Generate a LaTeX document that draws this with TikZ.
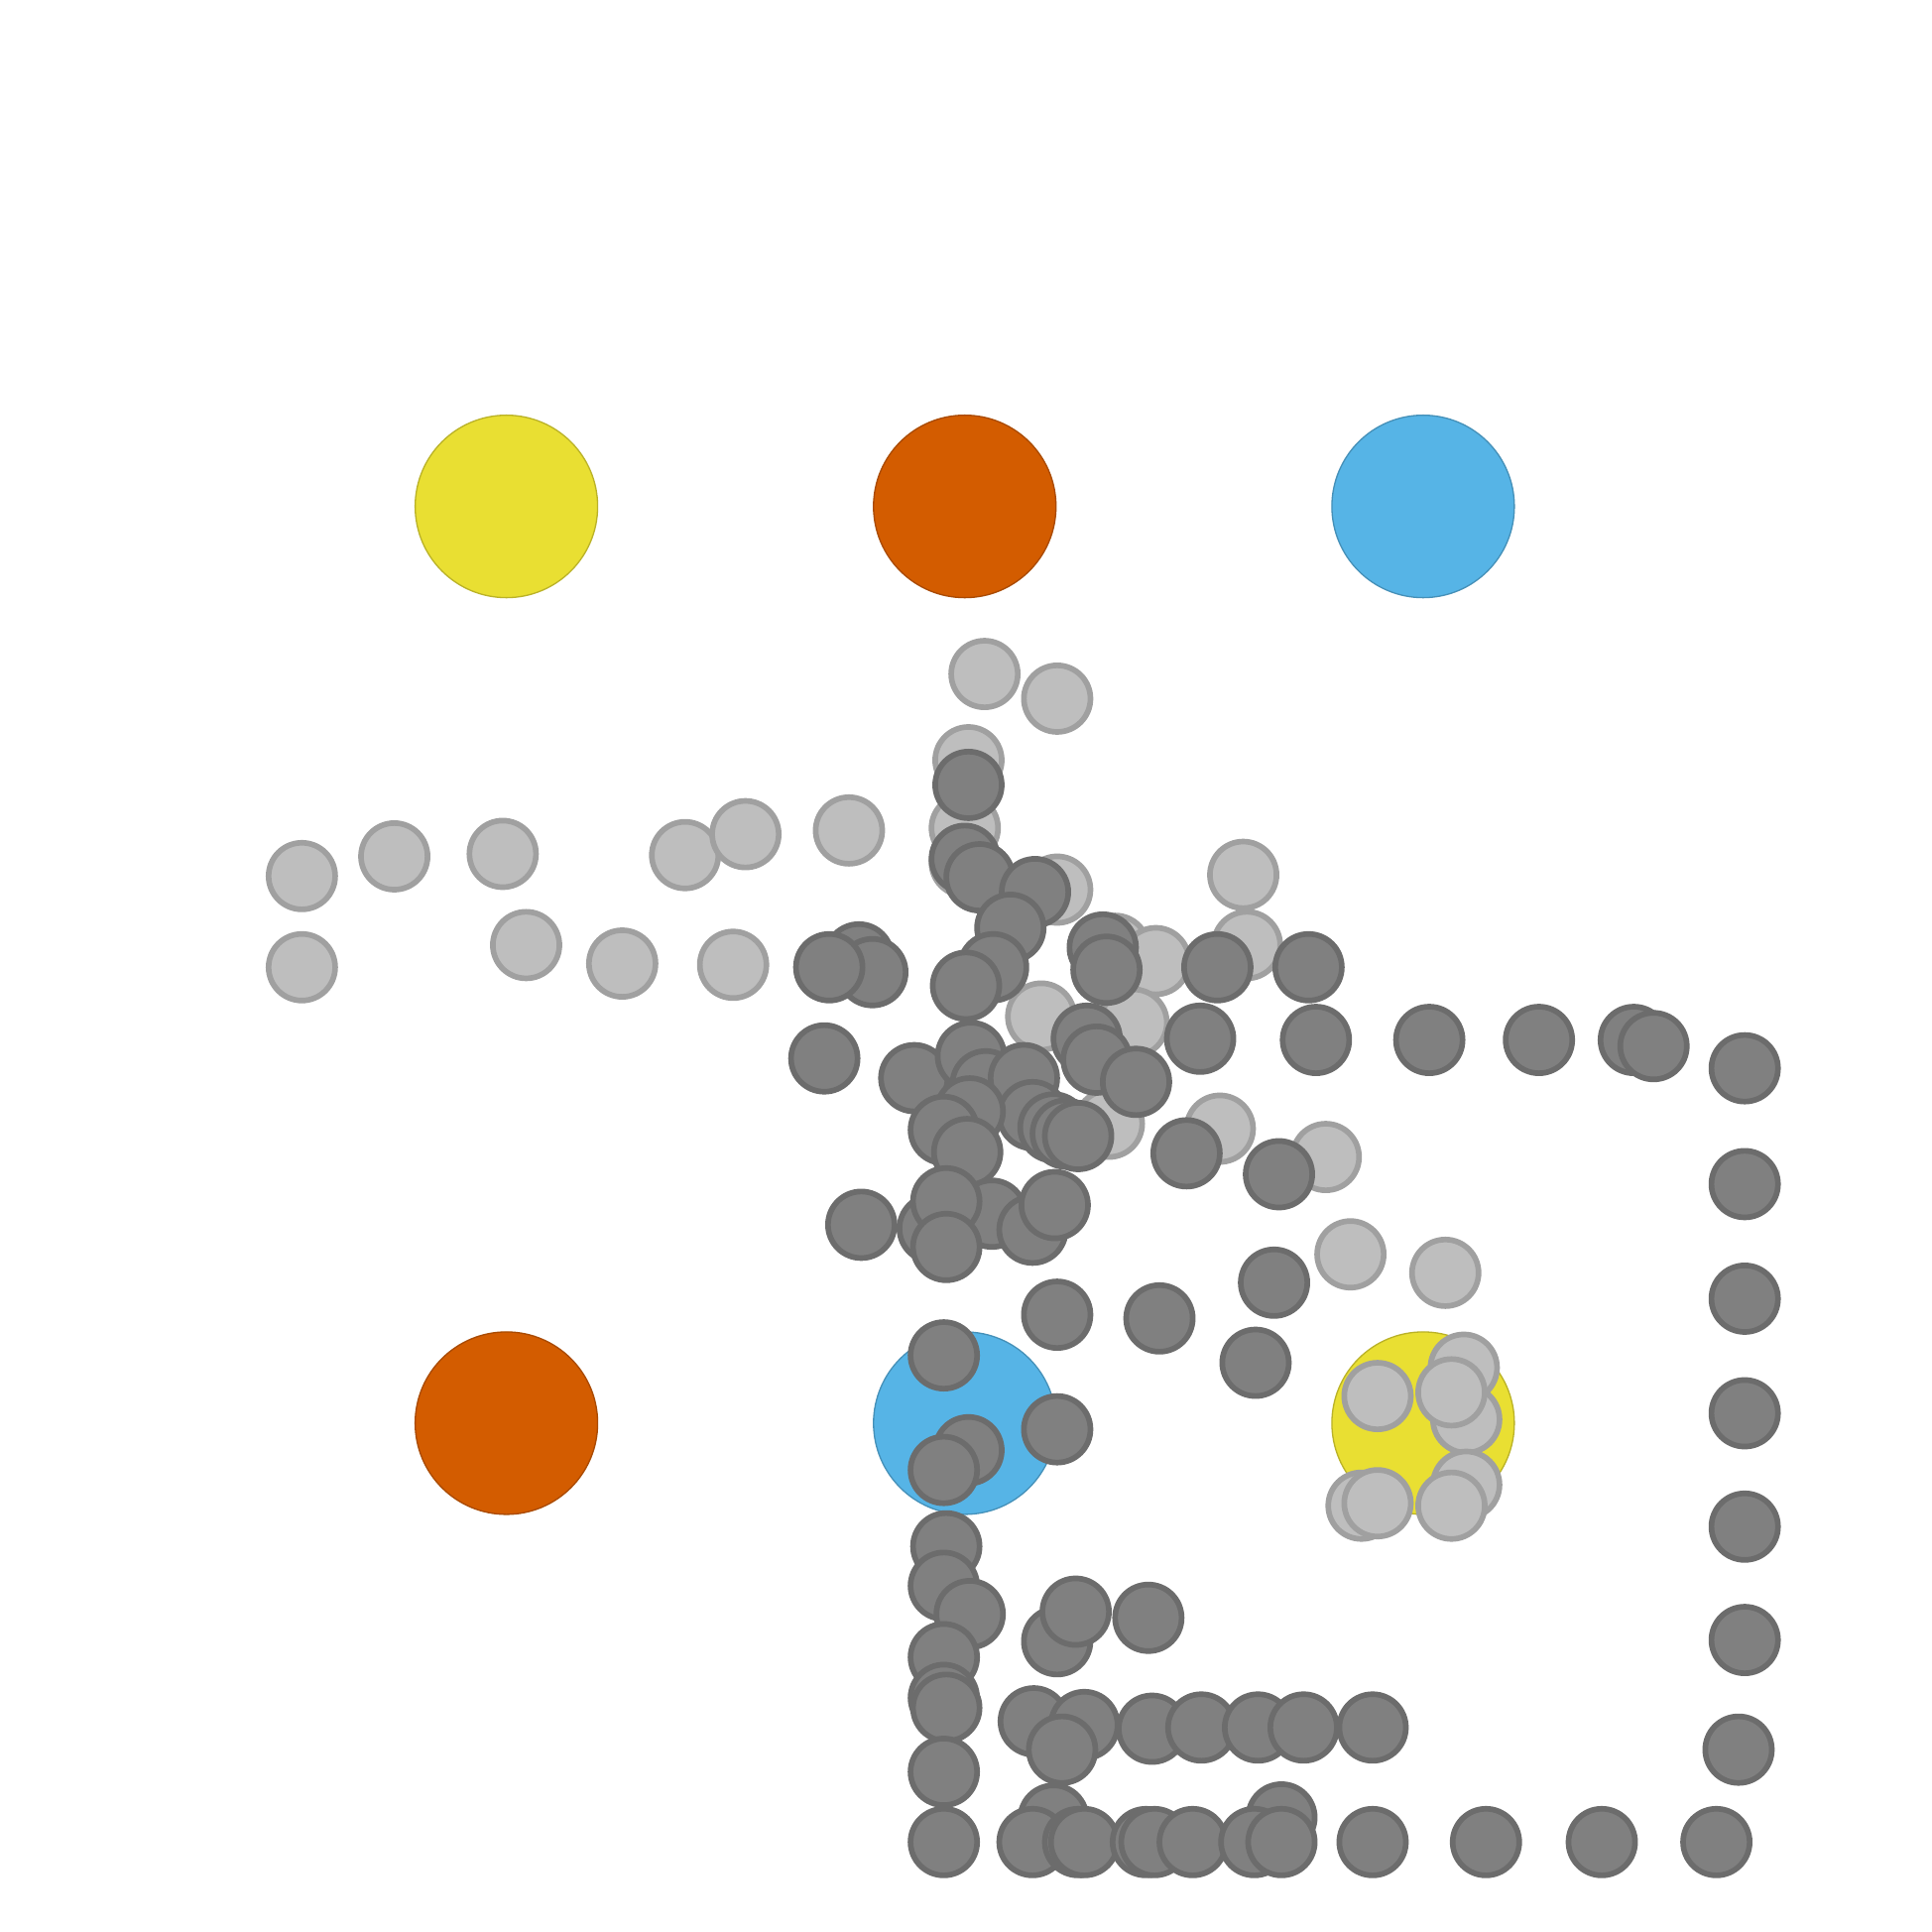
\documentclass[tikz,border=0pt]{standalone}
\definecolor{BigYellow}{HTML}{E9DF32}
\definecolor{BigOrange}{HTML}{D35C00}
\definecolor{BigBlue}{HTML}{56B4E6}
\definecolor{LightDot}{HTML}{BEBEBE}
\definecolor{LightRim}{HTML}{A0A0A0}
\definecolor{DarkDot}{HTML}{808080}
\definecolor{DarkRim}{HTML}{6C6C6C}
\usepackage{tikz}

\begin{document}
\begin{tikzpicture}[x=0.01cm, y=-0.01cm,
  bigdisc/.style={draw=#1!80!black, fill=#1, line width=0.3pt},
  lightdot/.style={draw=LightRim, fill=LightDot, line width=1.3pt},
  darkdot/.style={draw=DarkRim, fill=DarkDot, line width=1.3pt}]
  \useasboundingbox (0,0) rectangle (1568,1568);

  % Big discs
  \foreach \x/\y/\col in {411/411/BigYellow, 783/411/BigOrange, 1155/411/BigBlue,
                          411/1155/BigOrange, 783/1155/BigBlue, 1155/1155/BigYellow} {
    \draw[bigdisc=\col] (\x,\y) circle[radius=0.74cm];
  }

  % Light dots
  \foreach \x/\y in {799/547, 858/567, 786/617, 783/672, 783/700,
                     245/711, 320/695, 408/693, 556/694, 605/677, 689/674,
                     1009/710, 858/722, 245/785, 427/767, 505/782, 595/783,
                     1012/767, 905/770, 938/780, 845/825, 920/830, 900/912,
                     990/916, 1076/939, 1096/1018, 1173/1033,
                     1188/1110, 1190/1152, 1118/1133, 1178/1130,
                     1190/1205, 1105/1222, 1118/1220, 1178/1222} {
    \draw[lightdot] (\x,\y) circle[radius=0.27cm];
  }

  % Dark dots
  \foreach \x/\y in {786/637, 783/697, 795/712, 840/724, 820/753,
                     697/777, 708/789, 673/785, 806/785, 784/800,
                     895/769, 898/787, 988/785, 1062/785,
                     882/843, 890/860, 922/878, 974/843, 1068/844, 1160/844,
                     1249/844, 1326/844, 1342/849, 1416/867,
                     669/859, 742/875, 788/857, 800/880, 831/875, 838/905,
                     787/902, 766/917, 785/935, 855/915, 865/920, 875/922,
                     963/936, 1038/953, 1416/961,
                     699/994, 757/997, 805/985, 768/975, 838/998, 856/978, 768/1012,
                     1034/1041, 858/1067, 941/1070, 1019/1106,
                     1416/1054, 1416/1147, 766/1100, 858/1160, 786/1177, 766/1193,
                     1416/1239, 768/1255, 766/1287, 787/1310, 766/1345,
                     858/1332, 873/1308, 932/1313, 1416/1331,
                     766/1378, 768/1386, 839/1397, 880/1400, 935/1403, 975/1402,
                     1021/1402, 1058/1402, 1114/1402, 862/1420, 1411/1420,
                     766/1438, 855/1476, 1040/1475,
                     766/1495, 838/1495, 875/1495, 880/1495, 930/1495, 937/1495,
                     968/1495, 1018/1495, 1040/1495, 1114/1495, 1206/1495,
                     1300/1495, 1393/1495} {
    \draw[darkdot] (\x,\y) circle[radius=0.27cm];
  }
\end{tikzpicture}
\end{document}
